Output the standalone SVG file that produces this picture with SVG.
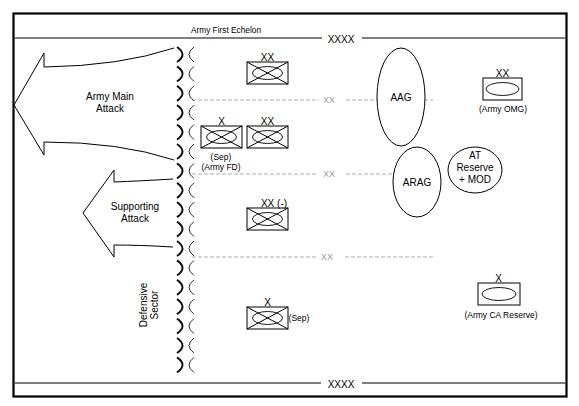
<svg xmlns="http://www.w3.org/2000/svg" width="579" height="406" viewBox="0 0 579 406">
<defs>
<style>
text{font-family:"Liberation Sans",Arial,sans-serif;fill:#000;text-anchor:middle}
.lbl{font-size:8.5px}
.ulbl{font-size:10px}
.big{font-size:10px}
.ech{font-size:8.3px}
.xx{font-size:9px;fill:#999}
.pl{fill:none;stroke:#000;stroke-width:1}
.gl{fill:none;stroke:#999;stroke-width:0.8;stroke-dasharray:4 2}
.thick{fill:none;stroke:#111;stroke-width:2}
.thin{fill:none;stroke:#111;stroke-width:0.9}
.unit{fill:#fff;stroke:#000;stroke-width:1}
</style>
<g id="arcpair">
<path class="thick" d="M177,0 Q188,7.5 177,15"/>
<path class="thin" d="M194,0 Q184,7.5 194,15"/>
</g>
<g id="mech">
<rect class="unit" x="0" y="0" width="41" height="22"/>
<ellipse cx="20.5" cy="11" rx="15" ry="6.5" fill="none" stroke="#000" stroke-width="0.9"/>
<path class="pl" d="M0,0 L41,22 M41,0 L0,22"/>
</g>
</defs>
<rect x="0" y="0" width="579" height="406" fill="#fff"/>

<g id="frame">
<rect x="13.5" y="13.5" width="553" height="383" fill="none" stroke="#000" stroke-width="2.2"/>
<path d="M14,38 H322 M362,38 H566" stroke="#555" stroke-width="1.3" fill="none"/>
<path d="M14,383 H321 M362,383 H566" stroke="#555" stroke-width="1.3" fill="none"/>
<text class="ech" x="226" y="33">Army First Echelon</text>
<text class="ulbl" x="341" y="42.5">XXXX</text>
<text class="ulbl" x="341" y="387.5">XXXX</text>
</g>

<g id="connectors">
<path class="gl" d="M192,100 H319 M346,100 H433"/>
<path class="gl" d="M192,174 H318 M346,174 H393"/>
<path class="gl" d="M192,257 H317 M345,257 H433"/>
<text class="xx" x="329" y="103">XX</text>
<text class="xx" x="329" y="177">XX</text>
<text class="xx" x="327" y="260">XX</text>
</g>

<g id="flot">
<use href="#arcpair" y="47"/>
<use href="#arcpair" y="66.4"/>
<use href="#arcpair" y="85.8"/>
<use href="#arcpair" y="105.2"/>
<use href="#arcpair" y="124.6"/>
<use href="#arcpair" y="144"/>
<use href="#arcpair" y="163.4"/>
<use href="#arcpair" y="182.8"/>
<use href="#arcpair" y="202.2"/>
<use href="#arcpair" y="221.6"/>
<use href="#arcpair" y="241"/>
<use href="#arcpair" y="260.4"/>
<use href="#arcpair" y="279.8"/>
<use href="#arcpair" y="299.2"/>
<use href="#arcpair" y="318.6"/>
<use href="#arcpair" y="338"/>
<use href="#arcpair" y="357.4"/>
</g>

<g id="main-attack">
<path class="pl" d="M174,48 Q120,66 44,67 L44,53 L14,105 L44,155 L44,142 Q120,142 174,160"/>
<text class="big" x="110" y="100">Army Main</text>
<text class="big" x="110" y="112">Attack</text>
</g>

<g id="supporting-attack">
<path class="pl" d="M173,179 Q140,181 114,182 L114,170 L83,213 L114,257 L114,245 Q140,245 173,247"/>
<text class="big" x="135" y="210">Supporting</text>
<text class="big" x="135" y="222">Attack</text>
</g>

<g id="defensive-sector">
<text class="big" transform="translate(147,305) rotate(-90)">Defensive</text>
<text class="big" transform="translate(158,305) rotate(-90)">Sector</text>
</g>

<g id="div-top">
<use href="#mech" x="247" y="62"/>
<text class="ulbl" x="267.5" y="60.5">XX</text>
</g>

<g id="army-fd">
<use href="#mech" x="201" y="126"/>
<text class="ulbl" x="221.5" y="124.5">X</text>
<text class="lbl" x="221" y="160">(Sep)</text>
<text class="lbl" x="221" y="170">(Army FD)</text>
</g>

<g id="div-mid">
<use href="#mech" x="247" y="126"/>
<text class="ulbl" x="267.5" y="124.5">XX</text>
</g>

<g id="div-minus">
<use href="#mech" x="247" y="208"/>
<text class="ulbl" x="274" y="206.5">XX (-)</text>
</g>

<g id="bde-sep">
<use href="#mech" x="247" y="307"/>
<text class="ulbl" x="267.5" y="305.5">X</text>
<text class="lbl" x="299" y="321">(Sep)</text>
</g>

<g id="aag">
<ellipse class="unit" cx="401" cy="97" rx="24" ry="49"/>
<text class="big" x="401" y="101">AAG</text>
</g>

<g id="arag">
<ellipse class="unit" cx="417" cy="182" rx="24" ry="35"/>
<text class="big" x="417" y="186">ARAG</text>
</g>

<g id="at-reserve">
<ellipse class="unit" cx="475" cy="170" rx="27" ry="23"/>
<text class="big" x="475" y="159">AT</text>
<text class="big" x="475" y="171">Reserve</text>
<text class="big" x="475" y="183">+ MOD</text>
</g>

<g id="army-omg">
<rect class="unit" x="483" y="78" width="39" height="22"/>
<ellipse cx="502.5" cy="89" rx="16.5" ry="6.5" fill="none" stroke="#000" stroke-width="0.9"/>
<text class="ulbl" x="502.5" y="76.5">XX</text>
<text class="lbl" x="503" y="112">(Army OMG)</text>
</g>

<g id="army-ca-reserve">
<rect class="unit" x="478" y="283" width="42" height="22"/>
<ellipse cx="499" cy="294" rx="17" ry="6.5" fill="none" stroke="#000" stroke-width="0.9"/>
<text class="ulbl" x="498.5" y="281.5">X</text>
<text class="lbl" x="501" y="318">(Army CA Reserve)</text>
</g>
</svg>
